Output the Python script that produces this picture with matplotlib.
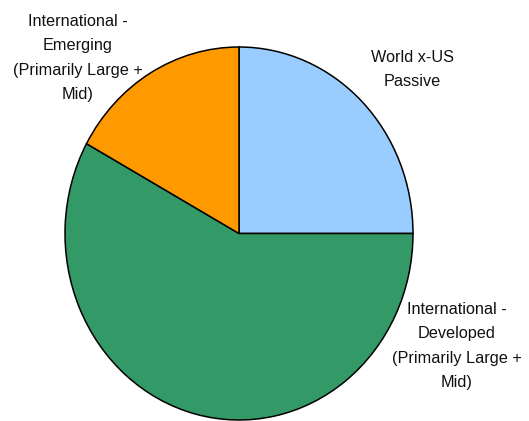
import matplotlib.pyplot as plt

# Allocation of the international sleeve
labels = ['World x-US\nPassive',
          'International -\nDeveloped\n(Primarily Large +\nMid)',
          'International -\nEmerging\n(Primarily Large +\nMid)']
weights = [25, 58, 17]
colors = ['#99CCFF', '#339966', '#FF9900']

# label anchor points (pie units, radius = 1)
label_pos = [(0.997, 0.879), (1.253, -0.603), (-0.928, 0.941)]

plt.rcParams['font.family'] = ['Liberation Sans', 'DejaVu Sans']

W, H = 529, 421
fig = plt.figure(figsize=(W / 100, H / 100), dpi=100)
# pie is drawn slightly taller than wide
ax = fig.add_axes([65 / W, 1 / H, 348 / W, 373 / H])

ax.pie(weights, colors=colors, startangle=90, counterclock=False,
       radius=1.0, wedgeprops=dict(edgecolor='black', linewidth=1.1))
ax.set_aspect('auto')
ax.set_xlim(-1, 1)
ax.set_ylim(-1, 1)
ax.axis('off')

for lab, (x, y) in zip(labels, label_pos):
    ax.text(x, y, lab, ha='center', va='center', fontsize=11.7,
            linespacing=1.78, color='#111111', clip_on=False)

fig.savefig('out.png', dpi=100)
